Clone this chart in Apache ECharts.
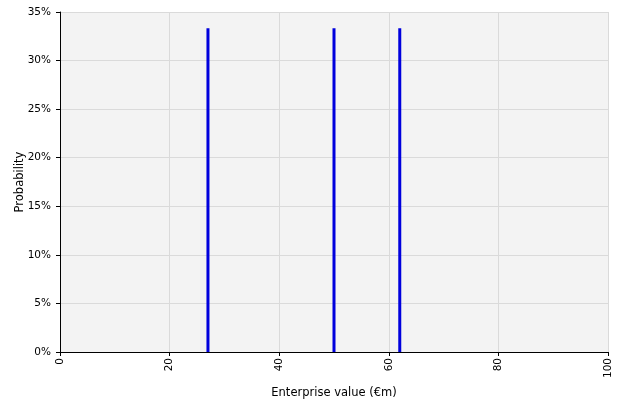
<!DOCTYPE html>
<html><head><meta charset="utf-8">
<script src="https://cdn.jsdelivr.net/npm/echarts@6/dist/echarts.min.js"></script>
<style>html,body{margin:0;padding:0;background:#fff}#c{width:617px;height:408px}</style>
</head><body><div id="c"></div>
<script>
var xValues = [27, 50, 62];
var probabilities = [0.3333, 0.3333, 0.3333];
var xTicks = [0, 20, 40, 60, 80, 100];
var yTicks = [0, 0.05, 0.10, 0.15, 0.20, 0.25, 0.30, 0.35];
var xTitle = 'Enterprise value (€m)';
var yTitle = 'Probability';

var font = 'DejaVu Sans';
var chart = echarts.init(document.getElementById('c'), null, {renderer: 'canvas'});
chart.setOption({
  animation: false,
  textStyle: {fontFamily: font},
  grid: {left: 60, right: 9, top: 12, bottom: 56, show: true, backgroundColor: '#f3f3f3', borderWidth: 0,
    containLabel: false, outerBoundsMode: 'none'},
  xAxis: {
    type: 'value', min: xTicks[0], max: xTicks[xTicks.length - 1], interval: 20,
    name: xTitle, nameLocation: 'middle', nameGap: 35, nameMoveOverlap: false,
    nameTextStyle: {color: '#000', fontSize: 11.5, fontFamily: font},
    axisLine: {show: true, onZero: false, lineStyle: {color: '#000', width: 1}},
    axisTick: {show: true, length: 4, lineStyle: {color: '#000'}},
    axisLabel: {rotate: 90, color: '#000', fontSize: 10.5, margin: 6, fontFamily: font},
    splitLine: {show: true, lineStyle: {color: '#dadada', width: 1}}
  },
  yAxis: {
    type: 'value', min: yTicks[0], max: yTicks[yTicks.length - 1], interval: 0.05,
    name: yTitle, nameLocation: 'middle', nameGap: 34, nameRotate: 90, nameMoveOverlap: false,
    nameTextStyle: {color: '#000', fontSize: 11.5, fontFamily: font},
    axisLine: {show: true, lineStyle: {color: '#000', width: 1}},
    axisTick: {show: true, length: 4, lineStyle: {color: '#000'}},
    axisLabel: {color: '#000', fontSize: 10.5, margin: 9, fontFamily: font,
      formatter: function (v) { return Math.round(v * 100) + '%'; }},
    splitLine: {show: true, lineStyle: {color: '#dadada', width: 1}}
  },
  series: [{
    type: 'bar',
    barWidth: 3,
    itemStyle: {color: '#0000dd'},
    data: xValues.map(function (x, i) { return [x, probabilities[i]]; })
  }]
});
</script></body></html>
